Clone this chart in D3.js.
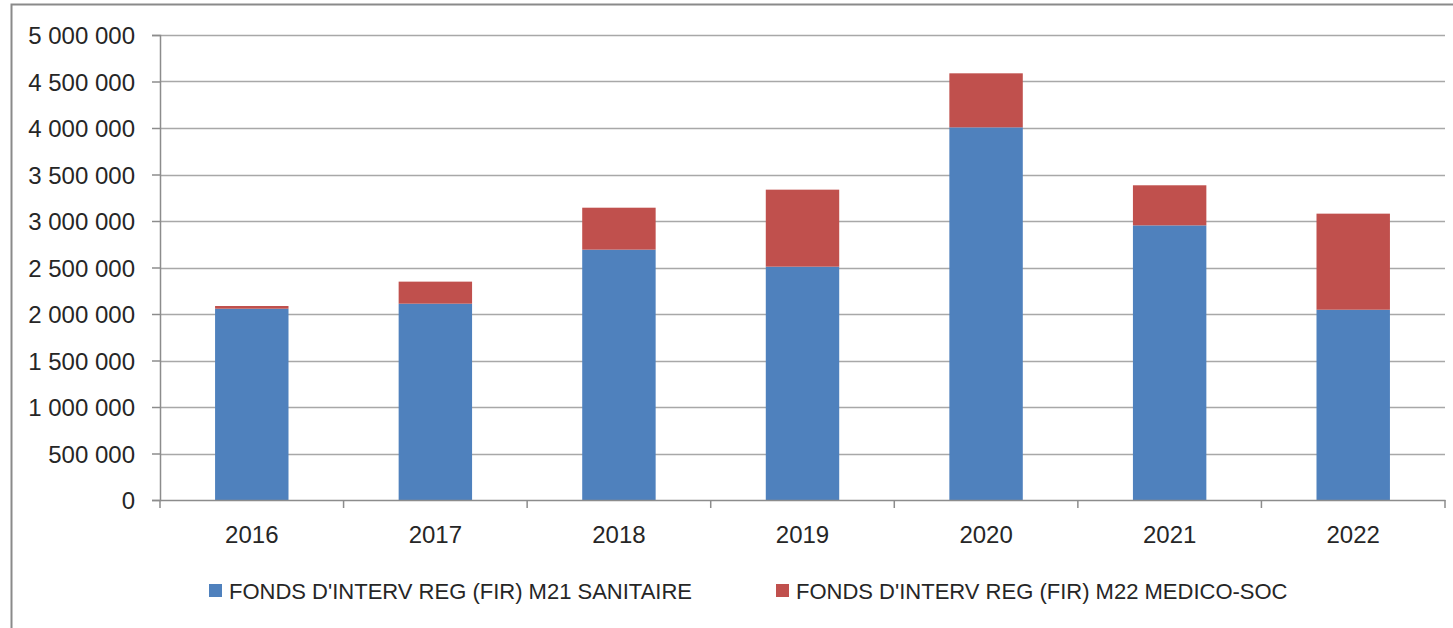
<!DOCTYPE html>
<html lang="fr">
<head>
<meta charset="UTF-8">
<title>FIR</title>
<script src="https://cdn.jsdelivr.net/npm/d3@7/dist/d3.min.js"></script>
<style>
    html, body { margin: 0; padding: 0; background: white; }
    svg { display: block; font-family: "Liberation Sans", Arial, sans-serif; }
    .grid line { stroke: #a8a8a8; stroke-width: 1.5; }
    .axis path, .axis line { stroke: #8c8c8c; stroke-width: 1.5; }
    .axis text { fill: #262626; font-size: 24px; }
    .legend text { fill: #262626; font-size: 22px; }
</style>
</head>
<body>
<svg id="chart" width="1453" height="628"></svg>
<script>
// data
var years = ["2016", "2017", "2018", "2019", "2020", "2021", "2022"];
var sanitaire = [2057000, 2111000, 2692000, 2509000, 4007000, 2953000, 2046000];
var medicoSoc = [29000, 237000, 451000, 828000, 581000, 431000, 1033000];
var seriesNames = ["FONDS D'INTERV REG (FIR) M21 SANITAIRE", "FONDS D'INTERV REG (FIR) M22 MEDICO-SOC"];
var seriesColors = ["#4f81bd", "#c0504d"];
var yTicks = [0, 500000, 1000000, 1500000, 2000000, 2500000, 3000000, 3500000, 4000000, 4500000, 5000000];

var svg = d3.select("#chart");
var margin = {left: 160, top: 35, right: 8, bottom: 128};
var width = 1453 - margin.left - margin.right,
    height = 628 - margin.top - margin.bottom;

// outer frame (cut off on the right and bottom like the screenshot)
svg.append("rect")
    .attr("x", 11.5).attr("y", 4.5)
    .attr("width", 1460).attr("height", 640)
    .attr("fill", "none")
    .attr("stroke", "#8a8a8a")
    .attr("stroke-width", 2);

var g = svg.append("g").attr("transform", "translate(" + margin.left + "," + margin.top + ")");

var x = d3.scaleBand().domain(years).range([0, width]).paddingInner(0.6).paddingOuter(0.3);
var y = d3.scaleLinear().domain([0, 5000000]).range([height, 0]);

var fr = d3.formatLocale({decimal: ",", thousands: " ", grouping: [3], currency: ["", " €"]});
var fmt = fr.format(",d");

// gridlines
g.append("g").attr("class", "grid")
    .selectAll("line").data(yTicks.slice(1)).join("line")
    .attr("x1", 0).attr("x2", width)
    .attr("y1", function(d) { return Math.round(y(d)) + 0.5; })
    .attr("y2", function(d) { return Math.round(y(d)) + 0.5; });

// stacked bars
var rows = years.map(function(yr, i) { return {year: yr, s0: sanitaire[i], s1: medicoSoc[i]}; });
var stack = d3.stack().keys(["s0", "s1"]);
var layers = stack(rows);

g.append("g").selectAll("g").data(layers).join("g")
    .attr("fill", function(d, i) { return seriesColors[i]; })
    .selectAll("rect").data(function(d) { return d; }).join("rect")
    .attr("x", function(d) { return x(d.data.year); })
    .attr("width", x.bandwidth())
    .attr("y", function(d) { return y(d[1]); })
    .attr("height", function(d) { return y(d[0]) - y(d[1]); });

// y axis
var yAxis = g.append("g").attr("class", "axis")
    .call(d3.axisLeft(y).tickValues(yTicks).tickFormat(fmt).tickSize(8).tickPadding(17));
yAxis.selectAll("text").attr("dy", "0.36em");

// x axis, ticks at category boundaries
var xAxis = g.append("g").attr("class", "axis")
    .attr("transform", "translate(0," + height + ")")
    .call(d3.axisBottom(x).tickSize(0).tickPadding(26));
xAxis.selectAll(".tick line").remove();
var step = x.step();
xAxis.selectAll("line.sep").data(d3.range(years.length + 1)).join("line")
    .attr("class", "sep")
    .attr("x1", function(i) { return i * step; })
    .attr("x2", function(i) { return i * step; })
    .attr("y1", 0).attr("y2", 8);

// legend
var legendX = [209, 776];
var legend = svg.append("g").attr("class", "legend")
    .selectAll("g").data(seriesNames).join("g")
    .attr("transform", function(d, i) { return "translate(" + legendX[i] + ",584)"; });
legend.append("rect")
    .attr("width", 13).attr("height", 13)
    .attr("fill", function(d, i) { return seriesColors[i]; });
legend.append("text")
    .attr("x", 20).attr("y", 7).attr("dy", "0.35em")
    .text(function(d) { return d; });
</script>
</body>
</html>
